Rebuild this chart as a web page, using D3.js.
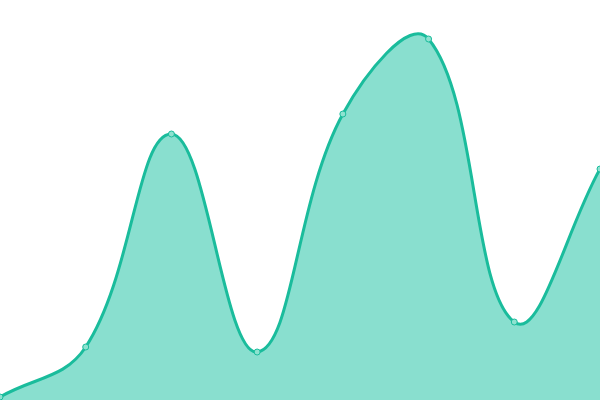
<!DOCTYPE html>
<html><head><meta charset="utf-8">
<script src="https://cdn.jsdelivr.net/npm/d3@7"></script>
<style>html,body{margin:0;padding:0;background:#fff;overflow:hidden}</style>
</head><body>
<svg id="c" width="600" height="400"></svg>
<script>
const categories = [0, 1, 2, 3, 4, 5, 6, 7];
const values = [3, 53, 266, 48, 286, 361, 78, 231];

const W = 600, H = 400;
const svg = d3.select("#c");
const x = d3.scaleLinear().domain([0, categories.length - 1]).range([0, W]);
const y = d3.scaleLinear().domain([0, 400]).range([H, 0]);
const data = categories.map((c, i) => ({c, v: values[i]}));

// Spline curve with distance-weighted control points (tension 0.4)
function splineCurve(tension) {
  return function(context) {
    let pts = [], line = NaN;
    return {
      areaStart() { line = 0; },
      areaEnd() { line = NaN; },
      lineStart() { pts = []; },
      point(px, py) { pts.push([+px, +py]); },
      lineEnd() {
        const n = pts.length;
        if (n) {
          const cps = pts.map((p, i) => {
            const prev = pts[Math.max(0, i - 1)], next = pts[Math.min(n - 1, i + 1)];
            const d01 = Math.hypot(p[0] - prev[0], p[1] - prev[1]);
            const d12 = Math.hypot(next[0] - p[0], next[1] - p[1]);
            let s01 = d01 / (d01 + d12), s12 = d12 / (d01 + d12);
            if (!isFinite(s01)) s01 = 0; if (!isFinite(s12)) s12 = 0;
            const fa = tension * s01, fb = tension * s12;
            return {
              prev: [p[0] - fa * (next[0] - prev[0]), p[1] - fa * (next[1] - prev[1])],
              next: [p[0] + fb * (next[0] - prev[0]), p[1] + fb * (next[1] - prev[1])]
            };
          });
          if (line) context.lineTo(pts[0][0], pts[0][1]);
          else context.moveTo(pts[0][0], pts[0][1]);
          for (let i = 1; i < n; i++) {
            const a = cps[i - 1].next, b = cps[i].prev;
            context.bezierCurveTo(a[0], a[1], b[0], b[1], pts[i][0], pts[i][1]);
          }
          if (line === 1) context.closePath();
        }
        if (line === 0 || line === 1) line = 1 - line;
      }
    };
  };
}
const curve = splineCurve(0.4);

svg.append("path").datum(data)
  .attr("d", d3.area().x(d => x(d.c)).y0(H).y1(d => y(d.v)).curve(curve))
  .attr("fill", "#89dfcf");
svg.append("path").datum(data)
  .attr("d", d3.line().x(d => x(d.c)).y(d => y(d.v)).curve(curve))
  .attr("fill", "none").attr("stroke", "#1abc9c").attr("stroke-width", 3);
svg.selectAll("circle").data(data).join("circle")
  .attr("cx", d => x(d.c)).attr("cy", d => y(d.v)).attr("r", 3)
  .attr("fill", "#8ee2d0").attr("stroke", "#1abc9c").attr("stroke-width", 1);
</script>
</body></html>
